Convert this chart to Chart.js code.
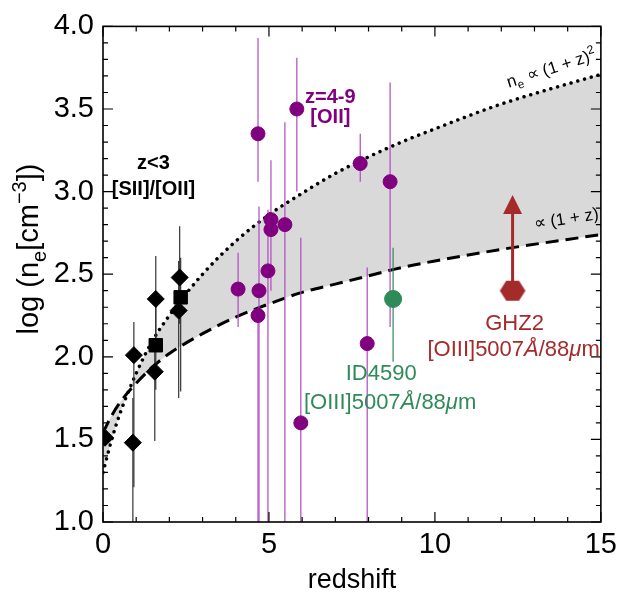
<!DOCTYPE html>
<html>
<head>
<meta charset="utf-8">
<script src="https://cdn.jsdelivr.net/npm/chart.js@4"></script>
<style>
  body { margin: 0; background: #fff; }
</style>
</head>
<body>
<canvas id="myChart" width="623" height="593"></canvas>
<script>
const FONT = "'Liberation Sans', Arial, sans-serif";

// z<3 sample, [SII]/[OII]
const diamondZ  = [0.06, 0.90, 0.93, 1.59, 1.56, 2.31, 2.28];
const diamondY  = [1.51, 1.48, 2.01, 2.35, 1.91, 2.48, 2.28];
const diamondLo = [1.48, 0.90, 1.21, 2.10, 1.49, 2.20, 1.75];
const diamondHi = [1.54, 1.75, 2.21, 2.61, 2.10, 2.79, 2.58];

const squareZ  = [1.59, 2.34];
const squareY  = [2.07, 2.36];
const squareLo = [1.80, 1.79];
const squareHi = [2.35, 2.60];

// z=4-9 [OII]
const purpleZ  = [4.67, 5.84, 7.75, 8.65, 5.06, 5.06, 5.48, 4.97, 4.07, 4.70, 4.67, 7.96, 5.96];
const purpleY  = [3.35, 3.50, 3.17, 3.06, 2.83, 2.77, 2.80, 2.52, 2.41, 2.40, 2.25, 2.08, 1.60];
const purpleLo = [3.06, 3.00, 3.06, 2.18, 2.40, 2.77, 0.50, 0.50, 2.18, 0.50, 0.50, 0.50, 0.50];
const purpleHi = [3.93, 3.81, 3.35, 3.66, 3.19, 2.77, 3.42, 2.89, 2.63, 2.91, 2.25, 2.54, 2.72];

// ID4590
const greenZ = [8.74], greenY = [2.35], greenLo = [1.97], greenHi = [2.66];

// GHZ2 (lower limit)
const ghzZ = [12.34], ghzY = [2.40], ghzArrowTip = 2.98;

// model curves
const curveZ      = [0, 0.25, 0.5, 1, 1.5, 2, 3, 4, 5, 6, 7, 8, 9, 10, 12, 15];
const curveSquare = [1.30, 1.49, 1.65, 1.90, 2.10, 2.25, 2.50, 2.70, 2.86, 2.99, 3.11, 3.21, 3.30, 3.38, 3.53, 3.71];
const curveLinear = [1.54, 1.64, 1.72, 1.84, 1.94, 2.02, 2.14, 2.24, 2.32, 2.39, 2.44, 2.49, 2.54, 2.58, 2.65, 2.74];

const xTicks = [0, 5, 10, 15];
const yTicks = [1.0, 1.5, 2.0, 2.5, 3.0, 3.5, 4.0];

const PURPLE = "#800080", PURPLE_BAR = "#b048c0", GREEN = "#2e8b57", RED = "#a52a2a";

function pts(xs, ys) {
  return xs.map((x, i) => ({ x: x, y: ys[i] }));
}

// hexagon marker for GHZ2
const hex = document.createElement("canvas");
hex.width = 28; hex.height = 26;
(function () {
  const c = hex.getContext("2d");
  c.fillStyle = RED;
  c.beginPath();
  for (let i = 0; i < 6; i++) {
    const a = i * Math.PI / 3;
    const px = 14 + 12.8 * Math.cos(a), py = 13 + 11.5 * Math.sin(a);
    if (i === 0) c.moveTo(px, py); else c.lineTo(px, py);
  }
  c.closePath();
  c.fill();
})();

function drawRuns(ctx, runs, x, y, size, color, weight) {
  // runs: [text, kind] kind = n | sub | sup | it
  const w = weight || "normal";
  const fontFor = (k) => {
    if (k === "sub" || k === "sup") return w + " " + Math.round(size * 0.7) + "px " + FONT;
    if (k === "it") return "italic " + w + " " + size + "px " + FONT;
    return w + " " + size + "px " + FONT;
  };
  let total = 0;
  runs.forEach(r => { ctx.font = fontFor(r[1]); total += ctx.measureText(r[0]).width; });
  let cx = x - total / 2;
  ctx.fillStyle = color;
  ctx.textAlign = "left";
  ctx.textBaseline = "alphabetic";
  const base = y + size * 0.36;
  runs.forEach(r => {
    ctx.font = fontFor(r[1]);
    let dy = 0;
    if (r[1] === "sub") dy = size * 0.25;
    if (r[1] === "sup") dy = -size * 0.42;
    ctx.fillText(r[0], cx, base + dy);
    cx += ctx.measureText(r[0]).width;
  });
}

const labels = [
  { z: 1.52, v: 3.18, size: 20, weight: "bold", color: "#000", runs: [["z<3", "n"]] },
  { z: 1.52, v: 3.02, size: 20, weight: "bold", color: "#000", runs: [["[SII]/[OII]", "n"]] },
  { z: 6.85, v: 3.58, size: 20, weight: "bold", color: PURPLE, runs: [["z=4-9", "n"]] },
  { z: 6.85, v: 3.46, size: 20, weight: "bold", color: PURPLE, runs: [["[OII]", "n"]] },
  { z: 8.38, v: 1.91, size: 22, color: GREEN, runs: [["ID4590", "n"]] },
  { z: 8.65, v: 1.73, size: 22, color: GREEN, runs: [["[OIII]5007", "n"], ["Å", "it"], ["/88", "n"], ["μ", "it"], ["m", "n"]] },
  { z: 12.40, v: 2.21, size: 22, color: RED, runs: [["GHZ2", "n"]] },
  { z: 12.37, v: 2.05, size: 22, color: RED, runs: [["[OIII]5007", "n"], ["Å", "it"], ["/88", "n"], ["μ", "it"], ["m", "n"]] },
  { z: 13.50, v: 3.75, size: 17, color: "#000", rot: -18, runs: [["n", "n"], ["e", "sub"], [" ∝ (1 + z)", "n"], ["2", "sup"]] },
  { z: 13.95, v: 2.84, size: 17, color: "#000", rot: -9, runs: [["∝ (1 + z)", "n"]] }
];

function bar(ctx, xs, ys, z, lo, hi, color, width) {
  ctx.strokeStyle = color;
  ctx.lineWidth = width;
  z.forEach((zz, i) => {
    if (hi[i] - lo[i] <= 0) return;
    const px = xs.getPixelForValue(zz);
    ctx.beginPath();
    ctx.moveTo(px, ys.getPixelForValue(lo[i]));
    ctx.lineTo(px, ys.getPixelForValue(hi[i]));
    ctx.stroke();
  });
}

const errorBars = {
  id: "errorBars",
  afterDatasetDraw(chart, args) {
    if (args.index !== 5) return;
    const ctx = chart.ctx, a = chart.chartArea;
    const xs = chart.scales.x, ys = chart.scales.y;
    ctx.save();
    ctx.beginPath();
    ctx.rect(a.left, a.top, a.right - a.left, a.bottom - a.top);
    ctx.clip();
    bar(ctx, xs, ys, diamondZ, diamondLo, diamondHi, "#333", 1.2);
    bar(ctx, xs, ys, squareZ, squareLo, squareHi, "#333", 1.2);
    bar(ctx, xs, ys, purpleZ, purpleLo, purpleHi, PURPLE_BAR, 1.2);
    bar(ctx, xs, ys, greenZ, greenLo, greenHi, GREEN, 1.2);
    // GHZ2 arrow
    const gx = xs.getPixelForValue(ghzZ[0]);
    const tip = ys.getPixelForValue(ghzArrowTip);
    ctx.strokeStyle = RED;
    ctx.lineWidth = 3;
    ctx.beginPath();
    ctx.moveTo(gx, ys.getPixelForValue(ghzY[0]));
    ctx.lineTo(gx, tip + 15);
    ctx.stroke();
    ctx.fillStyle = RED;
    ctx.beginPath();
    ctx.moveTo(gx, tip);
    ctx.lineTo(gx - 9.5, tip + 19);
    ctx.lineTo(gx + 9.5, tip + 19);
    ctx.closePath();
    ctx.fill();
    ctx.restore();
  }
};

const frameAndText = {
  id: "frameAndText",
  afterDraw(chart) {
    const ctx = chart.ctx, a = chart.chartArea;
    const xs = chart.scales.x, ys = chart.scales.y;
    ctx.save();
    ctx.strokeStyle = "#000";
    ctx.lineWidth = 1.6;
    ctx.strokeRect(a.left, a.top, a.right - a.left, a.bottom - a.top);
    ctx.lineWidth = 1.2;
    ctx.beginPath();
    for (let z = 0; z <= 15; z++) {
      const px = xs.getPixelForValue(z), len = z % 5 === 0 ? 10 : 5;
      ctx.moveTo(px, a.bottom); ctx.lineTo(px, a.bottom - len);
      ctx.moveTo(px, a.top); ctx.lineTo(px, a.top + len);
    }
    for (let k = 10; k <= 40; k++) {
      const py = ys.getPixelForValue(k / 10), len = k % 5 === 0 ? 10 : 5;
      ctx.moveTo(a.left, py); ctx.lineTo(a.left + len, py);
      ctx.moveTo(a.right, py); ctx.lineTo(a.right - len, py);
    }
    ctx.stroke();

    labels.forEach(l => {
      const px = xs.getPixelForValue(l.z), py = ys.getPixelForValue(l.v);
      ctx.save();
      ctx.translate(px, py);
      if (l.rot) ctx.rotate(l.rot * Math.PI / 180);
      drawRuns(ctx, l.runs, 0, 0, l.size, l.color, l.weight);
      ctx.restore();
    });

    // axis titles
    drawRuns(ctx, [["redshift", "n"]], (a.left + a.right) / 2, 578, 27, "#000");
    ctx.save();
    ctx.translate(28, 249);
    ctx.rotate(-Math.PI / 2);
    drawRuns(ctx, [["log (n", "n"], ["e", "sub"], ["[cm", "n"], ["−3", "sup"], ["])", "n"]], 0, 0, 29, "#000");
    ctx.restore();
    ctx.restore();
  }
};

const chart = new Chart(document.getElementById("myChart").getContext("2d"), {
  type: "scatter",
  data: {
    datasets: [
      { data: pts(ghzZ, ghzY), pointStyle: hex, pointRadius: 13 },
      { data: pts(greenZ, greenY), backgroundColor: GREEN, borderColor: GREEN, pointRadius: 8.5 },
      { data: pts(purpleZ, purpleY), backgroundColor: PURPLE, borderColor: PURPLE, pointRadius: 7 },
      { data: pts(squareZ, squareY), pointStyle: "rect", backgroundColor: "#000", borderColor: "#000", pointRadius: 9.5 },
      { data: pts(diamondZ, diamondY), pointStyle: "rectRot", backgroundColor: "#000", borderColor: "#000", pointRadius: 8.5 },
      {
        data: pts(curveZ, curveSquare), showLine: true, pointRadius: 0,
        borderColor: "#000", borderWidth: 3.5, borderDash: [0.01, 7], borderCapStyle: "round",
        cubicInterpolationMode: "monotone", fill: "+1", backgroundColor: "#d9d9d9"
      },
      {
        data: pts(curveZ, curveLinear), showLine: true, pointRadius: 0,
        borderColor: "#000", borderWidth: 3, borderDash: [13, 7],
        cubicInterpolationMode: "monotone", fill: false
      }
    ]
  },
  options: {
    responsive: false,
    animation: false,
    events: [],
    layout: { padding: { top: 20, right: 19, left: 0, bottom: 0 } },
    plugins: {
      legend: { display: false },
      tooltip: { enabled: false },
      filler: { drawTime: "beforeDatasetsDraw" }
    },
    scales: {
      x: {
        type: "linear", min: 0, max: 15,
        afterBuildTicks: (s) => { s.ticks = xTicks.map(v => ({ value: v })); },
        ticks: { color: "#000", font: { family: FONT, size: 29 }, padding: 6, maxRotation: 0, callback: v => String(v) },
        grid: { display: false, drawTicks: false },
        border: { display: false },
        afterFit: (s) => { s.height = 71; }
      },
      y: {
        type: "linear", min: 1, max: 4,
        afterBuildTicks: (s) => { s.ticks = yTicks.map(v => ({ value: v })); },
        ticks: { color: "#000", font: { family: FONT, size: 29 }, padding: 9, callback: v => Number(v).toFixed(1) },
        grid: { display: false, drawTicks: false },
        border: { display: false },
        afterFit: (s) => { s.width = 103; }
      }
    }
  },
  plugins: [errorBars, frameAndText]
});
</script>
</body>
</html>
